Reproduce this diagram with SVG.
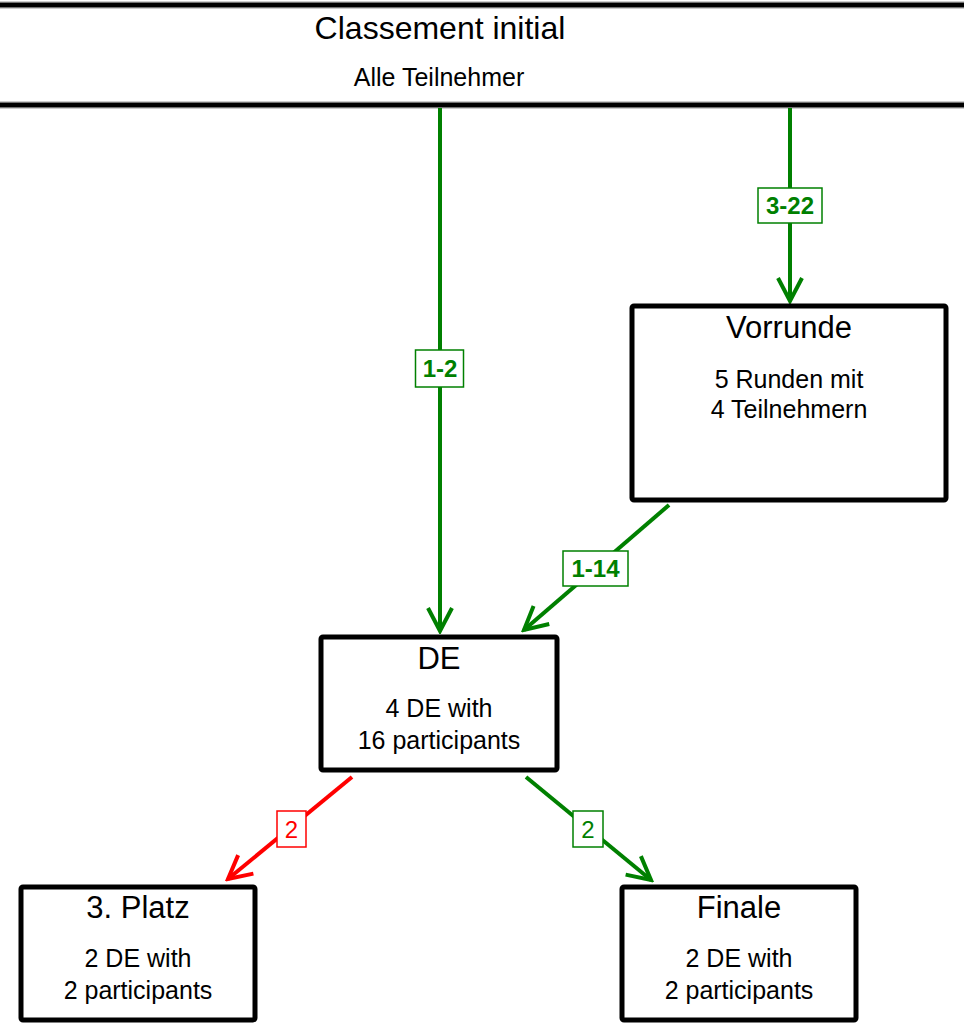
<svg xmlns="http://www.w3.org/2000/svg" width="964" height="1023" viewBox="0 0 964 1023">
<style>
.box{fill:#fff;stroke:#000;stroke-width:5;}
.t{font-family:"Liberation Sans",Arial,sans-serif;fill:#000;text-anchor:middle;}
.h{font-size:31px;}
.s{font-size:25px;}
.g{stroke:#008000;stroke-width:4;fill:none;}
.r{stroke:#ff0000;stroke-width:4;fill:none;}
.lb{fill:#fff;stroke-width:1.5;}
.lt{font-family:"Liberation Sans",Arial,sans-serif;font-size:24px;text-anchor:middle;}
</style>
<defs>
<marker id="ag" viewBox="-26 -15 29 30" refX="0" refY="0" markerWidth="29" markerHeight="30" markerUnits="userSpaceOnUse" orient="auto">
<path d="M-23,-12 L0,0 L-23,12" fill="none" stroke="#008000" stroke-width="4"/>
</marker>
<marker id="ar" viewBox="-26 -15 29 30" refX="0" refY="0" markerWidth="29" markerHeight="30" markerUnits="userSpaceOnUse" orient="auto">
<path d="M-23,-12 L0,0 L-23,12" fill="none" stroke="#ff0000" stroke-width="4"/>
</marker>
</defs>
<rect width="964" height="1023" fill="#fff"/>
<g id="classement">
<line x1="0" y1="5" x2="964" y2="5" stroke="#999" stroke-width="7"/>
<line x1="0" y1="5" x2="964" y2="5" stroke="#000" stroke-width="4.5"/>
<line x1="0" y1="105" x2="964" y2="105" stroke="#999" stroke-width="7"/>
<line x1="0" y1="105" x2="964" y2="105" stroke="#000" stroke-width="4.5"/>
<text class="t" x="440" y="39" font-size="32">Classement initial</text>
<text class="t s" x="439" y="86">Alle Teilnehmer</text>
</g>
<g id="connectors">
<line class="g" x1="440" y1="108" x2="440" y2="631" marker-end="url(#ag)"/>
<line class="g" x1="790" y1="108" x2="790" y2="301" marker-end="url(#ag)"/>
<line class="g" x1="669" y1="505" x2="524" y2="630" marker-end="url(#ag)"/>
<line class="r" x1="352" y1="777" x2="228" y2="879" marker-end="url(#ar)"/>
<line class="g" x1="526" y1="777" x2="651" y2="880" marker-end="url(#ag)"/>
<rect class="lb" x="415.5" y="350" width="48" height="37" stroke="#008000"/>
<text class="lt" x="440" y="377" fill="#008000" font-weight="bold">1-2</text>
<rect class="lb" x="758" y="188" width="64" height="35" stroke="#008000"/>
<text class="lt" x="790" y="214" fill="#008000" font-weight="bold">3-22</text>
<rect class="lb" x="563" y="551" width="65" height="35" stroke="#008000"/>
<text class="lt" x="595.5" y="577" fill="#008000" font-weight="bold">1-14</text>
<rect class="lb" x="277" y="811" width="29" height="36" stroke="#ff0000"/>
<text class="lt" x="291.5" y="838" fill="#ff0000">2</text>
<rect class="lb" x="573" y="811" width="30" height="36" stroke="#008000"/>
<text class="lt" x="588" y="838" fill="#008000">2</text>
</g>
<g id="vorrunde">
<rect class="box" x="632" y="306" width="314" height="194" rx="2"/>
<text class="t h" x="789" y="338">Vorrunde</text>
<text class="t s" x="789" y="388">5 Runden mit</text>
<text class="t s" x="789" y="418">4 Teilnehmern</text>
</g>
<g id="de">
<rect class="box" x="321" y="637" width="236" height="133" rx="2"/>
<text class="t h" x="439" y="669">DE</text>
<text class="t s" x="439" y="717">4 DE with</text>
<text class="t s" x="439" y="749">16 participants</text>
</g>
<g id="platz3">
<rect class="box" x="21" y="887" width="234" height="133" rx="2"/>
<text class="t h" x="138" y="918">3. Platz</text>
<text class="t s" x="138" y="967">2 DE with</text>
<text class="t s" x="138" y="999">2 participants</text>
</g>
<g id="finale">
<rect class="box" x="622" y="887" width="234" height="133" rx="2"/>
<text class="t h" x="739" y="918">Finale</text>
<text class="t s" x="739" y="967">2 DE with</text>
<text class="t s" x="739" y="999">2 participants</text>
</g>
</svg>
